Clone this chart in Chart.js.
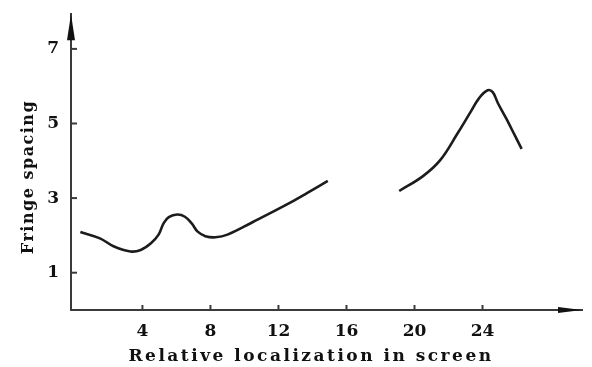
<!DOCTYPE html>
<html>
<head>
<meta charset="utf-8">
<script src="https://cdn.jsdelivr.net/npm/chart.js@4.4.1/dist/chart.umd.min.js"></script>
<style>
  html,body{margin:0;padding:0;background:#fff;}
  #wrap{width:592px;height:367px;}
</style>
</head>
<body>
<div id="wrap"><canvas id="c" width="592" height="367"></canvas></div>
<script>
// Left segment of the curve
const seg1X = [0.35, 1.5, 2.3, 3.3, 3.9, 4.5, 4.95, 5.25, 5.55, 6.05, 6.5, 6.9, 7.25, 7.7, 8.3, 9.0, 10.5, 12.5, 13.7, 14.9];
const seg1Y = [2.09, 1.92, 1.71, 1.57, 1.61, 1.79, 2.02, 2.33, 2.49, 2.56, 2.50, 2.32, 2.10, 1.98, 1.95, 2.02, 2.36, 2.83, 3.14, 3.46];
// Right segment of the curve
const seg2X = [19.1, 20.5, 21.5, 22.5, 23.3, 23.8, 24.3, 24.6, 24.9, 25.4, 25.9, 26.3];
const seg2Y = [3.19, 3.59, 4.01, 4.71, 5.31, 5.68, 5.89, 5.84, 5.55, 5.13, 4.68, 4.32];
// Axis ticks and titles
const xTicks = [4, 8, 12, 16, 20, 24];
const yTicks = [1, 3, 5, 7];
const xTitle = 'Relative localization in screen';
const yTitle = 'Fringe spacing';

const INK = '#1c1c1c';
const AXIS = '#3a3a3a';
const FONT = "'DejaVu Serif', serif";

function pts(xs, ys) { return xs.map((x, i) => ({x: x, y: ys[i]})); }

const decor = {
  id: 'decor',
  afterDraw(chart) {
    const ctx = chart.ctx;
    const xs = chart.scales.x, ys = chart.scales.y;
    const L = xs.left, B = ys.bottom, R = xs.right, T = ys.top;
    ctx.save();
    ctx.strokeStyle = AXIS; ctx.fillStyle = AXIS; ctx.lineWidth = 2;
    // inward ticks
    xTicks.forEach(v => {
      const p = xs.getPixelForValue(v);
      ctx.beginPath(); ctx.moveTo(p, B); ctx.lineTo(p, B - 5); ctx.stroke();
    });
    yTicks.forEach(v => {
      const p = ys.getPixelForValue(v);
      ctx.beginPath(); ctx.moveTo(L, p); ctx.lineTo(L + 6, p); ctx.stroke();
    });
    // arrows
    ctx.fillStyle = '#111';
    ctx.beginPath(); ctx.moveTo(L, T); ctx.lineTo(L - 4, T + 26); ctx.lineTo(L + 4, T + 26); ctx.closePath(); ctx.fill();
    ctx.beginPath(); ctx.moveTo(R, B); ctx.lineTo(R - 24, B - 3); ctx.lineTo(R - 24, B + 3); ctx.closePath(); ctx.fill();
    // titles
    ctx.fillStyle = '#111';
    ctx.font = "bold 17px " + FONT;
    ctx.textAlign = 'center'; ctx.textBaseline = 'middle';
    try { ctx.letterSpacing = '2.5px'; } catch (e) {}
    ctx.fillText(xTitle, 311, 357);
    ctx.translate(29, 177);
    ctx.rotate(-Math.PI / 2);
    try { ctx.letterSpacing = '1.5px'; } catch (e) {}
    ctx.font = "bold 16px " + FONT;
    ctx.fillText(yTitle, 0, 0);
    ctx.restore();
  }
};

new Chart(document.getElementById('c'), {
  type: 'scatter',
  data: {
    datasets: [
      { data: pts(seg1X, seg1Y), showLine: true, borderColor: INK, borderWidth: 2.6, pointRadius: 0, tension: 0.4, fill: false },
      { data: pts(seg2X, seg2Y), showLine: true, borderColor: INK, borderWidth: 2.6, pointRadius: 0, tension: 0.4, fill: false }
    ]
  },
  options: {
    responsive: false,
    animation: false,
    devicePixelRatio: 1,
    layout: { padding: { top: 7, right: 10, left: 0, bottom: 0 } },
    plugins: { legend: { display: false }, tooltip: { enabled: false } },
    scales: {
      x: {
        type: 'linear', min: -0.2, max: 29.85,
        afterBuildTicks: s => { s.ticks = xTicks.map(v => ({value: v})); },
        afterFit: s => { s.height = 57; },
        grid: { display: false },
        border: { display: true, color: AXIS, width: 2 },
        ticks: { color: '#111', font: { family: FONT, size: 17, weight: 'bold' }, padding: 3, maxRotation: 0 }
      },
      y: {
        type: 'linear', min: 0, max: 7.93,
        afterBuildTicks: s => { s.ticks = yTicks.map(v => ({value: v})); },
        afterFit: s => { s.width = 71; },
        grid: { display: false },
        border: { display: true, color: AXIS, width: 2 },
        ticks: { color: '#111', font: { family: FONT, size: 17, weight: 'bold' }, padding: 4 }
      }
    }
  },
  plugins: [decor]
});
</script>
</body>
</html>
